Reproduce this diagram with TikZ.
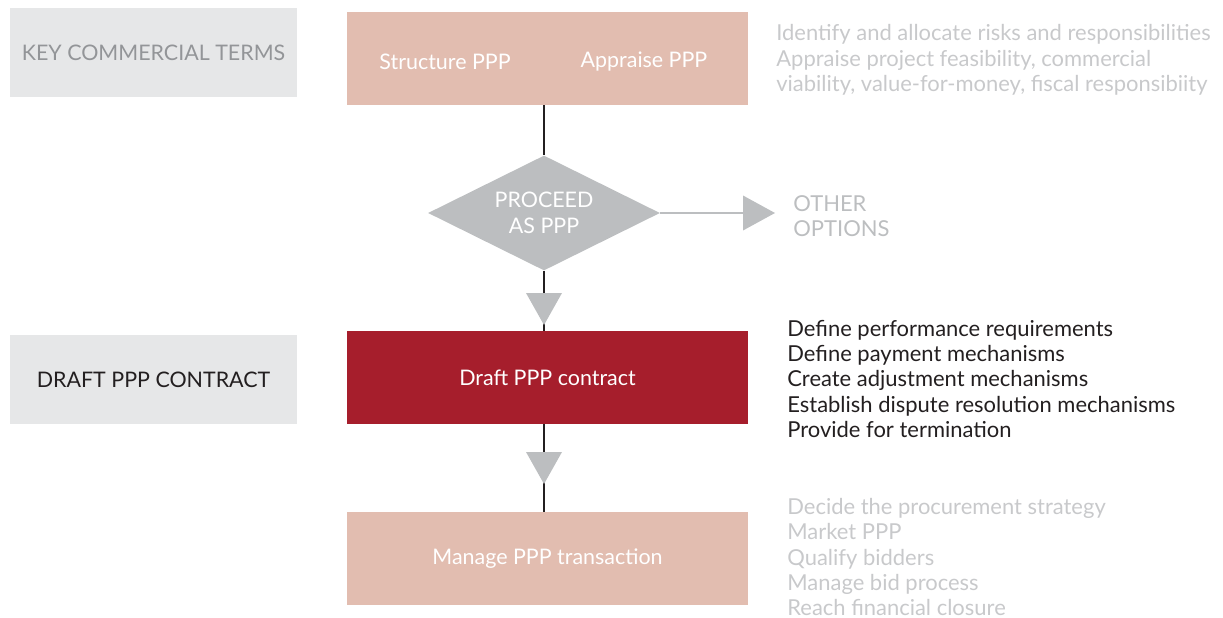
\documentclass[tikz,border=0pt]{standalone}
\usepackage{fontspec}
\setmainfont{Lato}
\usetikzlibrary{positioning}
\usetikzlibrary{shapes.geometric}

\definecolor{phasegray}{HTML}{E6E7E8}
\definecolor{phasetext}{HTML}{939598}
\definecolor{steppink}{HTML}{E2BDB0}
\definecolor{stepred}{HTML}{A61E2C}
\definecolor{decgray}{HTML}{BCBEC0}
\definecolor{notegray}{HTML}{C8C9CB}
\definecolor{notedark}{HTML}{231F20}

\begin{document}
\begin{tikzpicture}
		[x=0.02cm, y=-0.02cm,
		phase/.style={rectangle, fill=phasegray, minimum width=5.74cm, minimum height=1.8cm, inner sep=0pt, font=\fontsize{12.2}{14.5}\selectfont},
		stepbox/.style={rectangle, fill=#1, minimum width=8.02cm, minimum height=1.86cm, inner sep=0pt, text=white, font=\fontsize{12.2}{14.5}\selectfont},
		decision/.style={diamond, fill=decgray, shape aspect=2, minimum width=4.64cm, minimum height=2.3cm, inner sep=0pt, text=white, align=center, font=\fontsize{12.2}{14.7}\selectfont},
		note/.style={anchor=west, align=left, inner sep=0pt, font=\fontsize{12.5}{14.5}\selectfont},
		link/.style={draw=notedark, line width=1.2pt},
		tip/.style={fill=decgray}]
		\useasboundingbox (0,0) rectangle (1223,618);

		% left column
		\node[phase, text=phasetext] (kct) at (153.5,52.5) {KEY COMMERCIAL TERMS};
		\node[phase, text=notedark] (dpc) at (153.5,379.5) {DRAFT PPP CONTRACT};

		% main flow
		\node[stepbox=steppink] (top) at (547.5,58.5) {};
		\node (sppp) at (445,62) [text=white, font=\fontsize{12.2}{14.5}\selectfont] {Structure PPP};
		\node (appp) at (644,62) [text=white, font=\fontsize{12.2}{14.5}\selectfont] {Appraise PPP};
		\node[decision] (dec) at (544,213) {PROCEED\\AS PPP};
		\node[stepbox=stepred] (draft) at (547.5,377.5) {Draft PPP contract};
		\node[stepbox=steppink] (manage) at (547.5,558.5) {Manage PPP transaction};
		\coordinate (oo) at (743,213);

		\draw[link] (top.south -| dec.north) -- (dec.north);
		\draw[link] (dec.south) -- (dec.south |- draft.north);
		\draw[link] (draft.south -| dec.south) -- (dec.south |- manage.north);
		\draw[decgray, line width=1.5pt] (dec.east) -- (oo);

		% arrow heads
		\fill[tip] (oo) ++(0,-17.5) -- ++(32,17.5) -- ++(-32,17.5) -- cycle;
		\fill[tip] (526,293) -- (562,293) -- (544,325) -- cycle;
		\fill[tip] (526,452) -- (562,452) -- (544,484) -- cycle;

		% notes
		\node[note, text=decgray] (other) at (793,216) {OTHER\\OPTIONS};
		\node[note, text=notegray] (n1) at (776,60) {Identify and allocate risks and responsibilities\\Appraise project feasibility, commercial\\viability, value-for-money, fiscal responsibiity};
		\node[note, text=notedark] (n2) at (787,379) {Define performance requirements\\Define payment mechanisms\\Create adjustment mechanisms\\Establish dispute resolution mechanisms\\Provide for termination};
		\node[note, text=notegray] (n3) at (787,557) {Decide the procurement strategy\\Market PPP\\Qualify bidders\\Manage bid process\\Reach financial closure};
	\end{tikzpicture}
\end{document}
